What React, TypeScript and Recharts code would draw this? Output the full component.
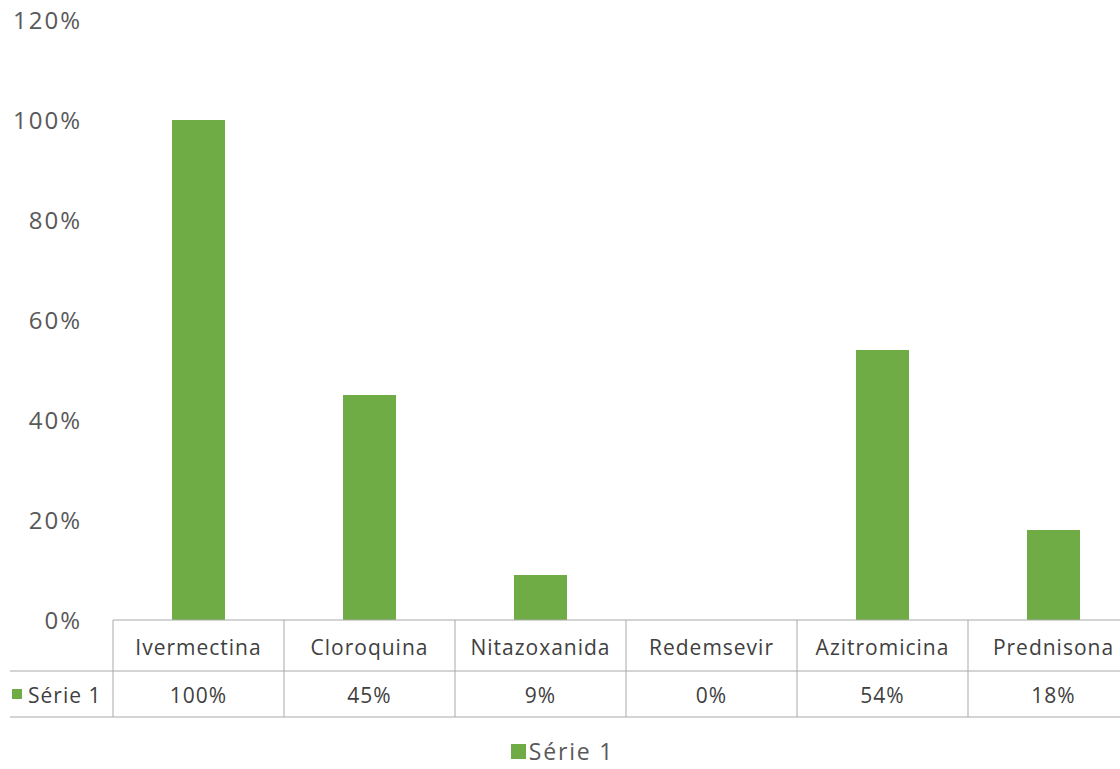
import React from "react";
import { BarChart, Bar, XAxis, YAxis, Legend } from "recharts";

// Share of each drug, in percent
const categories = ["Ivermectina", "Cloroquina", "Nitazoxanida", "Redemsevir", "Azitromicina", "Prednisona"];
const serie1 = [100, 45, 9, 0, 54, 18];
const yTicks = [0, 20, 40, 60, 80, 100, 120];
const seriesName = "Série 1";

const data = categories.map((name, i) => ({ name, value: serie1[i] }));

const FONT = "'Open Sans', 'Noto Sans', sans-serif";
const GREEN = "#6fac46";
const LINE = "#a9a9a9";
const AXIS_TEXT = "#595959";
const TABLE_TEXT = "#404040";

const CHART_W = 1140;
const CHART_H = 769;
const MARGIN = { top: 20, right: 1, bottom: 0, left: 0 };
const Y_AXIS_W = 113;
const PLOT_W = CHART_W - MARGIN.left - MARGIN.right - Y_AXIS_W;

// Header row height and value row height of the data table under the plot
const HEAD_H = 51;
const ROW_H = 46;
const TABLE_FONT = 21;
const TABLE_SPACING = 1;

const pct = (v: number) => `${v}%`;

// Each x tick draws its own column of the data table
const TableTick = (props: any) => {
  const { x, y, payload, index } = props;
  const band = PLOT_W / categories.length;
  const left = x - band / 2;
  const right = x + band / 2;
  const mid = y + HEAD_H;
  const bottom = mid + ROW_H;
  const value = serie1[index];
  const textProps = {
    fontFamily: FONT,
    fontSize: TABLE_FONT,
    letterSpacing: TABLE_SPACING,
    fill: TABLE_TEXT,
    dominantBaseline: "central" as const,
  };
  return (
    <g>
      <line x1={left} x2={right} y1={y} y2={y} stroke={LINE} />
      <line x1={left} x2={right} y1={mid} y2={mid} stroke={LINE} />
      <line x1={left} x2={right} y1={bottom} y2={bottom} stroke={LINE} />
      <line x1={left} x2={left} y1={y} y2={bottom} stroke={LINE} />
      {index === categories.length - 1 && (
        <line x1={right} x2={right} y1={y} y2={bottom} stroke={LINE} />
      )}
      <text x={x} y={y + HEAD_H / 2 + 1} textAnchor="middle" {...textProps}>
        {payload.value}
      </text>
      <text x={x} y={mid + ROW_H / 2 + 1} textAnchor="middle" {...textProps}>
        {pct(value)}
      </text>
      {index === 0 && (
        <g>
          <line x1={10} x2={left} y1={mid} y2={mid} stroke={LINE} />
          <line x1={10} x2={left} y1={bottom} y2={bottom} stroke={LINE} />
          <rect x={12} y={mid + ROW_H / 2 - 5} width={10} height={10} fill={GREEN} />
          <text x={28} y={mid + ROW_H / 2 + 1} {...textProps}>
            {seriesName}
          </text>
        </g>
      )}
    </g>
  );
};

const LegendContent = () => (
  <div
    style={{
      display: "flex",
      justifyContent: "center",
      alignItems: "center",
      height: 36,
      paddingRight: 14,
      fontFamily: FONT,
    }}
  >
    <div style={{ width: 15, height: 15, background: GREEN, marginRight: 3 }} />
    <span style={{ fontSize: 23, lineHeight: "26px", color: AXIS_TEXT, letterSpacing: 1.8 }}>
      {seriesName}
    </span>
  </div>
);

export default function App() {
  return (
    <div
      style={{
        position: "absolute",
        left: 0,
        top: 0,
        width: 1120,
        height: CHART_H,
        overflow: "hidden",
        background: "#ffffff",
        fontFamily: FONT,
      }}
    >
      <BarChart width={CHART_W} height={CHART_H} data={data} margin={MARGIN}>
        <YAxis
          width={Y_AXIS_W}
          domain={[0, 120]}
          ticks={yTicks}
          interval={0}
          tickFormatter={pct}
          axisLine={false}
          tickLine={false}
          tickSize={0}
          tickMargin={31}
          tick={{ fontSize: 24, fill: AXIS_TEXT, fontFamily: FONT, letterSpacing: 2 }}
        />
        <XAxis
          dataKey="name"
          height={113}
          axisLine={false}
          tickLine={false}
          tickSize={0}
          tickMargin={0}
          interval={0}
          tick={<TableTick />}
        />
        <Legend verticalAlign="bottom" height={36} content={<LegendContent />} />
        <Bar dataKey="value" name={seriesName} fill={GREEN} barSize={53} isAnimationActive={false} />
      </BarChart>
    </div>
  );
}
